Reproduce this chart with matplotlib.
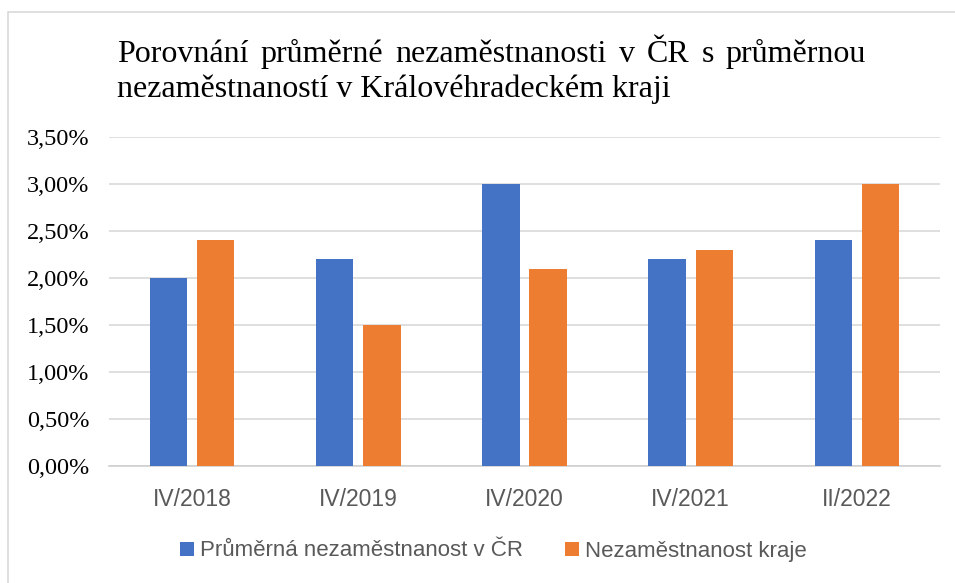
import matplotlib
matplotlib.use('Agg')
import matplotlib.pyplot as plt
import numpy as np
from matplotlib.patches import Rectangle
from matplotlib.ticker import FuncFormatter

# data
periods = ['IV/2018', 'IV/2019', 'IV/2020', 'IV/2021', 'II/2022']
cr_avg = [2.0, 2.2, 3.0, 2.2, 2.4]
kraj = [2.4, 1.5, 2.1, 2.3, 3.0]
series_names = ['Průměrná nezaměstnanost v ČR', 'Nezaměstnanost kraje']
title_lines = ['Porovnání průměrné nezaměstnanosti v ČR s průměrnou',
               'nezaměstnaností v Královéhradeckém kraji']

blue = '#4472C4'
orange = '#ED7D31'
grey_text = '#595959'
serif = ['Liberation Serif', 'DejaVu Serif']
sans = ['Liberation Sans', 'DejaVu Sans']

fig = plt.figure(figsize=(9.55, 5.83), dpi=100)
W, H = 955, 583

# chart border (right and bottom edges fall outside the picture)
fig.patches.append(Rectangle((8 / W, -0.1), 1.2, 1.1 - 12 / H, transform=fig.transFigure,
                             fill=False, edgecolor='#d9d9d9', linewidth=1.2))

ax = fig.add_axes([109 / W, 1 - 466 / H, (940 - 109) / W, (466 - 137) / H])

x = np.arange(len(periods))
w = 0.224
off = 0.142
ax.bar(x - off, cr_avg, w, color=blue, label=series_names[0], zorder=3)
ax.bar(x + off, kraj, w, color=orange, label=series_names[1], zorder=3)

ax.set_xlim(-0.5, len(periods) - 0.5)
ax.set_ylim(0, 3.5)
ax.set_yticks(np.arange(0, 3.51, 0.5))
ax.yaxis.set_major_formatter(FuncFormatter(lambda v, p: f'{v:.2f}%'.replace('.', ',')))
ax.grid(axis='y', color='#d9d9d9', linewidth=1.2, zorder=0)
for s in ['top', 'right', 'left']:
    ax.spines[s].set_visible(False)
ax.spines['bottom'].set_color('#d0d0d0')
ax.spines['bottom'].set_linewidth(1.2)
ax.tick_params(axis='both', length=0)
ax.tick_params(axis='y', pad=14)
ax.tick_params(axis='x', pad=15.5)
ax.set_xticks(x)
ax.set_xticklabels(periods, family=sans, fontsize=16.5, color=grey_text)
for lab in ax.get_yticklabels():
    lab.set_family(serif)
    lab.set_fontsize(17.5)
    lab.set_color('black')

# title: first line justified between two edges, second line left aligned
fig.canvas.draw()
r = fig.canvas.get_renderer()
left_px, right_px = 117, 866
fs_title = 23
words = title_lines[0].split(' ')
tmp = [fig.text(0, 0, wd, family=serif, fontsize=fs_title) for wd in words]
widths = [t.get_window_extent(r).width for t in tmp]
for t in tmp:
    t.remove()
gap = (right_px - left_px - sum(widths)) / (len(words) - 1)
pos = left_px
for wd, wdt in zip(words, widths):
    fig.text(pos / W, 1 - 62 / H, wd, family=serif, fontsize=fs_title, va='baseline')
    pos += wdt + gap
fig.text(left_px / W, 1 - 97 / H, title_lines[1], family=serif, fontsize=fs_title, va='baseline')

leg = fig.legend(loc='center', bbox_to_anchor=(493 / W, 1 - 551 / H), ncol=2, frameon=False,
                 prop={'family': sans, 'size': 16}, handlelength=0.65, handleheight=0.6,
                 handletextpad=0.25, columnspacing=1.9)
for t in leg.get_texts():
    t.set_color(grey_text)

fig.savefig('out.png', dpi=100)
